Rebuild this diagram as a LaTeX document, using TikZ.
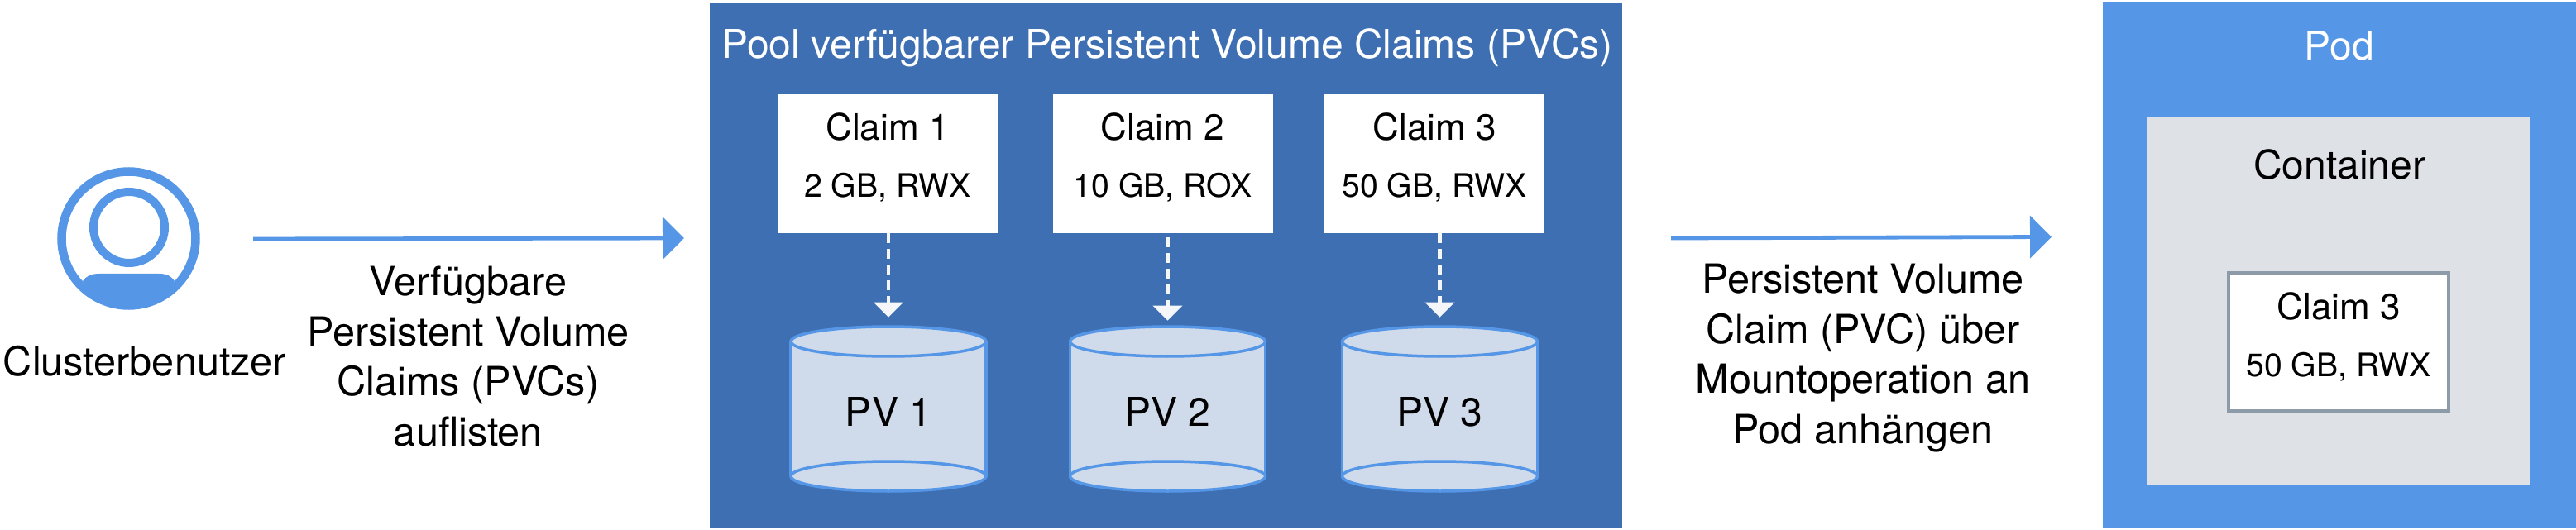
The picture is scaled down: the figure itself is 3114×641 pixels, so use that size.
\documentclass[tikz,border=0pt]{standalone}
\usepackage{fontspec}
\setmainfont{TeX Gyre Heros}
\usetikzlibrary{arrows.meta, positioning}
\definecolor{poolblue}{HTML}{3D6FB2}
\definecolor{podblue}{HTML}{5596E6}
\definecolor{pvfill}{HTML}{CFDAEB}
\definecolor{containergray}{HTML}{DEE1E5}
\definecolor{claimborder}{HTML}{8D9BA8}
\definecolor{dashwhite}{HTML}{F4F6FA}
\newcommand{\bigfont}{\fontsize{24.3}{30.25}\selectfont}
\newcommand{\titlefont}{\fontsize{24}{30.25}\selectfont}
\newcommand{\claimtext}[2]{{\fontsize{22}{34.5}\selectfont #1}\\#2}
\tikzset{
	label text/.style={align=center, inner sep=0pt, font=\bigfont},
	title text/.style={inner sep=0pt, font=\titlefont},
	claim box/.style={fill=white, minimum width=133pt, minimum height=84pt, inner sep=0pt, align=center, text depth=10.5pt, font=\fontsize{19.6}{34.5}\selectfont},
	flow arrow/.style={podblue, line width=2.4pt, -{Triangle[length=13pt,width=25.5pt]}},
	bind arrow/.style={dashwhite, line width=2.25pt, dash pattern=on 6pt off 3.5pt, -{Triangle[length=9pt,width=17.5pt]}, shorten >=11pt},
	pv line/.style={podblue, line width=1.75pt}
}
\begin{document}
\begin{tikzpicture}[x=.5pt, y=-.5pt]
	\useasboundingbox (0,0) rectangle (3114,641);
	% user
	\draw[podblue, line width=5.25pt] (155.5,288.5) circle [radius=40.5pt];
	\draw[podblue, line width=5pt] (156,275) circle [radius=21.5pt];
	\fill[podblue] (100,340) .. controls (104,334) and (110,331) .. (120,331) -- (192,331) .. controls (202,331) and (207,334) .. (211,340) .. controls (195,362) and (175,373) .. (155,373) .. controls (135,373) and (115,362) .. (100,340) -- cycle;
	\node[label text] (user) at (175,437) {Clusterbenutzer};
	\coordinate (listfrom) at (306,289);
	% pool
	\node[fill=poolblue, minimum width=551.5pt, minimum height=317.25pt, inner sep=0pt] (pool) at (1409.5,321.75) {};
	\node[title text, white] (pooltitle) at (1411,58) {Pool verfügbarer Persistent Volume Claims (PVCs)};
	\node[claim box] (claim1) at (1073,198) {\claimtext{Claim 1}{2 GB, RWX}};
	\node[claim box] (claim2) at (1405.5,198) {\claimtext{Claim 2}{10 GB, ROX}};
	\node[claim box] (claim3) at (1734,198) {\claimtext{Claim 3}{50 GB, RWX}};
	\foreach \x/\n in {1074/1, 1411.5/2, 1740.5/3} {
		\fill[pvfill] (\x-118,413) rectangle (\x+118,576);
		\draw[pv line, fill=pvfill] (\x,576) ellipse [x radius=59pt, y radius=9pt];
		\draw[pv line, fill=pvfill] (\x,413) ellipse [x radius=59pt, y radius=9pt];
		\draw[pv line] (\x-118,413) -- (\x-118,576) (\x+118,413) -- (\x+118,576);
		\node[minimum width=118pt, minimum height=90pt, inner sep=0pt, font=\fontsize{24}{28}\selectfont] (pv\n) at (\x,498) {PV \n};
	}
	\draw[bind arrow, shorten >=12pt] (pv1.north |- claim1.south) -- (pv1.north);
	\draw[bind arrow, shorten <=2.5pt, shorten >=10pt] (pv2.north |- claim2.south) -- (pv2.north);
	\draw[bind arrow, shorten >=12pt] (pv3.north |- claim3.south) -- (pv3.north);
	% pod
	\node[fill=podblue, minimum width=286pt, minimum height=318pt, inner sep=0pt] (pod) at (2828,321) {};
	\node[title text, white] (podtitle) at (2828,55) {Pod};
	\node[fill=containergray, minimum width=231pt, minimum height=223pt, inner sep=0pt] (container) at (2827,364) {};
	\node[title text] (containertitle) at (2828,199.5) {Container};
	\node[claim box, draw=claimborder, line width=2pt, minimum width=133pt, minimum height=83.5pt, text depth=8.5pt] (claimpod) at (2827,413.5) {\claimtext{Claim 3}{50 GB, RWX}};
	% arrows
	\coordinate (listto) at (827,288);
	\draw[flow arrow] (listfrom) -- (listto);
	\node[label text] (listlabel) at (566,431) {Verfügbare\\Persistent Volume\\Claims (PVCs)\\auflisten};
	\coordinate (mountfrom) at (2020,288);
	\coordinate (mountto) at (2480,286.5);
	\draw[flow arrow] (mountfrom) -- (mountto);
	\node[label text] (mountlabel) at (2252,433) {Persistent Volume\\Claim (PVC) über\\Mountoperation an\\Pod anhängen};
\end{tikzpicture}
\end{document}
